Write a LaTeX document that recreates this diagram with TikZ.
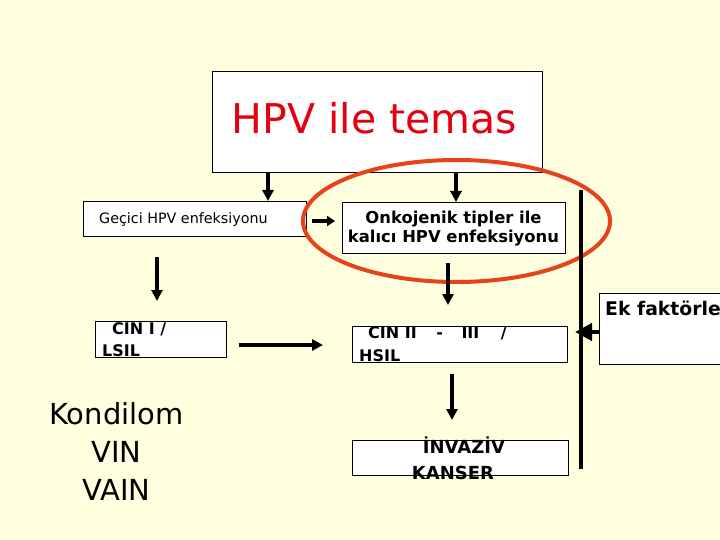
\documentclass[tikz,border=0pt]{standalone}
\usepackage{fontspec}
\setmainfont{DejaVu Sans}
\usetikzlibrary{arrows.meta,shapes.geometric}
\definecolor{bg}{RGB}{255,255,223}
\definecolor{hpvred}{RGB}{228,0,16}
\definecolor{ovalred}{RGB}{232,66,24}
\begin{document}
\begin{tikzpicture}[x=1pt,y=-1pt,
  box/.style={draw=black, line width=0.9pt, fill=white, inner sep=0pt, anchor=north west},
  lbl/.style={inner sep=0pt, anchor=base west},
  clbl/.style={inner sep=0pt, anchor=base},
  bsmall/.style={font=\fontsize{16}{19}\selectfont\bfseries},
  arr/.style={line width=4.5pt, -{Triangle[length=11pt,width=11pt]}},
  smallarr/.style={line width=4pt, -{Triangle[length=8pt,width=10pt]}},
  bigarr/.style={line width=4.5pt, -{Triangle[length=17pt,width=17pt]}}]
\useasboundingbox (0,0) rectangle (720,540);
\clip (0,0) rectangle (720,540);
\fill[bg] (0,0) rectangle (720,540);

% boxes
\node[box, minimum width=330pt, minimum height=101pt] (hpv) at (212,71) {};
\node[box, minimum width=223pt, minimum height=35pt] (gec) at (83,201) {};
\node[box, minimum width=223pt, minimum height=51pt] (onk) at (342,202) {};
\node[box, minimum width=131pt, minimum height=36pt] (cin1) at (95,321) {};
\node[box, minimum width=215pt, minimum height=36pt] (cin2) at (352,326) {};
\node[box, minimum width=216pt, minimum height=35pt] (inv) at (352,440) {};
\node[box, minimum width=150pt, minimum height=71pt] (ek) at (599,293) {};

% texts
\node[clbl, font=\fontsize{41}{50}\selectfont, text=hpvred] (hpvt) at (374.5,134) {HPV ile temas};
\node[lbl, font=\fontsize{14.3}{17}\selectfont] (gect) at (99,224) {Geçici HPV enfeksiyonu};
\node[clbl, font=\fontsize{16.4}{19}\selectfont\bfseries] (onkt1) at (453.5,223) {Onkojenik tipler ile};
\node[clbl, font=\fontsize{16.4}{19}\selectfont\bfseries] (onkt2) at (453.5,243) {kalıcı HPV enfeksiyonu};
\node[lbl, bsmall] (cin1t1) at (112,334) {CIN I /};
\node[lbl, bsmall] (cin1t2) at (102,356) {LSIL};
\node[lbl, bsmall] (cin2t1) at (368,338) {CIN II\hspace{14pt} - \hspace{13pt}III\hspace{16pt} /};
\node[lbl, bsmall] (cin2t2) at (359,361) {HSIL};
\node[clbl, font=\fontsize{18}{21}\selectfont\bfseries] (invt1) at (464,453) {İNVAZİV};
\node[clbl, font=\fontsize{18}{21}\selectfont\bfseries] (invt2) at (453,479) {KANSER};
\node[lbl, font=\fontsize{18.8}{22}\selectfont\bfseries] (ekt) at (605,315) {Ek faktörler};
\node[clbl, font=\fontsize{29}{34}\selectfont] (kon1) at (116.5,424) {Kondilom};
\node[clbl, font=\fontsize{29}{34}\selectfont] (kon2) at (116.5,462) {VIN};
\node[clbl, font=\fontsize{29}{34}\selectfont] (kon3) at (116.5,500) {VAIN};

% red oval
\node[draw=ovalred, line width=4pt, ellipse, minimum width=307pt, minimum height=122pt, inner sep=0pt] (oval) at (456.5,221) {};

% helper coordinates
\coordinate (a1) at (268,0);
\coordinate (a2) at (456,0);
\coordinate (h1) at (0,221);
\coordinate (v1) at (157,0);
\coordinate (v2) at (448,0);
\coordinate (h2) at (0,345);
\coordinate (v3) at (452,0);
\coordinate (bartop) at (581,190);
\coordinate (barbot) at (581,469);
\coordinate (ektip) at (575,332);

% connectors
\draw[arr] (hpv.south -| a1) -- (gec.north -| a1);
\draw[arr] (hpv.south -| a2) -- (onk.north -| a2);
\draw[smallarr, shorten <=5pt, shorten >=7pt] (gec.east |- h1) -- (onk.west |- h1);
\draw[arr, shorten <=20pt, shorten >=20pt] (gec.south -| v1) -- (cin1.north -| v1);
\draw[arr, shorten <=9pt, shorten >=21pt] (onk.south -| v2) -- (cin2.north -| v2);
\draw[arr, shorten <=12pt, shorten >=29pt] (cin1.east |- h2) -- (cin2.west |- h2);
\draw[arr, shorten <=11pt, shorten >=20pt] (cin2.south -| v3) -- (inv.north -| v3);
\draw[line width=4.5pt] (bartop) -- (barbot);
\draw[bigarr] (ek.west |- ektip) -- (ektip);
\end{tikzpicture}
\end{document}
